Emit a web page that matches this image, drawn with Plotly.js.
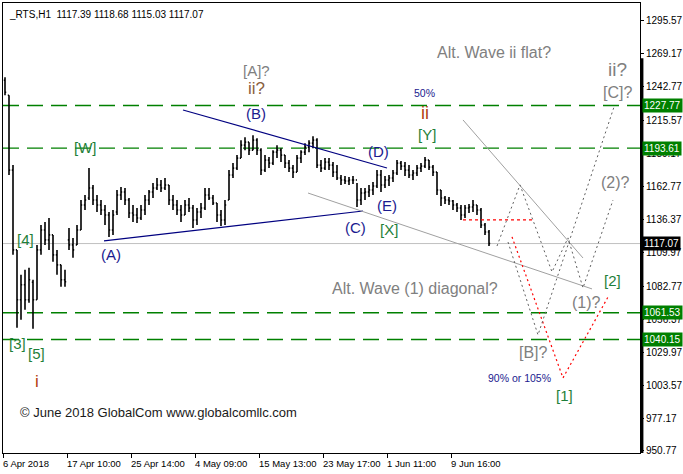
<!DOCTYPE html>
<html><head><meta charset="utf-8">
<script src="https://cdn.plot.ly/plotly-3.0.1.min.js"></script>
<style>html,body{margin:0;padding:0;background:#fff}#c{width:683px;height:474px}</style>
</head><body><div id="c"></div>
<script>
// ---- price bars (H1 RTS, one bar per 4 px group) ----
const barOpen = [1248,1236,1176,1112,1072,1084,1072,1086,1072,1112,1128,1120,1124,1108,1100,1088,1120,1116,1116,1128,1148,1153.6,1161.6,1152,1148,1144,1140,1128,1142.4,1156,1158.4,1152,1141.6,1140,1137.6,1144,1152,1158.4,1161.6,1164,1161.6,1164,1152,1148,1144,1140,1148,1145.6,1136,1142.4,1145.6,1156,1153.6,1149.6,1140,1136,1152,1172,1177.6,1185.6,1196,1198.4,1192,1200,1192,1176,1184,1181.6,1190.4,1192,1188,1181.6,1177.6,1174.4,1185.6,1190.4,1194.4,1197.6,1200,1180,1177.6,1182.4,1180,1174.4,1169.6,1168,1167.2,1168,1168,1152,1157.6,1158.4,1160,1163.2,1172,1164,1168,1169.6,1173.6,1181.6,1179.2,1176,1172,1173.6,1177.6,1179.2,1184,1178.4,1174.4,1160,1153.6,1152,1151.2,1148,1145.6,1140,1145.6,1146.4,1148,1144,1132,1126.4];
const barHigh = [1250.4,1236,1180,1112,1092,1096,1097.6,1088,1116,1132,1134.4,1137.6,1124,1112,1100,1096,1129.6,1121.6,1132,1152,1156,1177.6,1164,1156,1152,1148,1142.4,1144,1160,1162.4,1161.6,1153.6,1148,1145.6,1148,1156,1160,1165.6,1169.6,1168,1169.6,1164,1156,1152,1148,1152,1153.6,1148,1145.6,1149.6,1161.6,1161.6,1156,1149.6,1144,1152,1176,1181.6,1188,1200,1202.4,1198.4,1204,1201.6,1193.6,1188,1186.4,1192,1196,1193.6,1188,1184,1180,1188,1192,1197.6,1200,1203.2,1201.6,1184,1185.6,1185.6,1182.4,1180,1172,1171.2,1170.4,1171.2,1165.6,1161.6,1161.6,1164,1166.4,1176,1176,1171.2,1172,1176,1184,1183.2,1182.4,1180,1176,1180,1181.6,1186.4,1184,1180,1174.4,1160,1155.2,1154.4,1152,1149.6,1148,1148,1148.8,1152,1148,1145.6,1133.6,1128];
const barLow = [1236,1172,1108,1049.6,1056,1064,1069.6,1048.8,1072,1108,1116,1112,1102.4,1092,1082.4,1082.4,1112,1105.6,1116,1128,1144,1152,1148,1142.4,1140,1132,1122.4,1124,1140,1152,1148,1137.6,1134.4,1133.6,1136,1140,1148,1153.6,1160,1158.4,1160,1148,1144,1140,1134.4,1140,1142.4,1129.6,1132,1137.6,1144,1152,1148,1134.4,1131.2,1132,1152,1169.6,1176,1185.6,1192,1188,1192,1188,1172,1174.4,1177.6,1180,1185.6,1182.4,1177.6,1174.4,1169.6,1174.4,1181.6,1188,1190.4,1193.6,1177.6,1174.4,1176,1176,1170.4,1168,1164,1164.8,1164,1164.8,1146.4,1148,1152,1154.4,1156,1161.6,1158.4,1161.6,1163.2,1166.4,1172,1176,1171.2,1169.6,1168,1171.2,1174.4,1177.6,1176,1171.2,1156,1147.2,1148.8,1148,1144,1142.4,1136,1137.6,1141.6,1142.4,1140,1129.6,1124,1115.03];
const barClose = [1238.4,1176,1112,1072,1084,1072,1088,1072,1112,1128,1120,1124,1108,1100,1088,1086.4,1116,1112,1128,1148,1152,1161.6,1152,1148,1144,1140,1128,1140,1156,1158.4,1152,1141.6,1140,1137.6,1144,1152,1158.4,1161.6,1164,1161.6,1164,1152,1148,1144,1140,1148,1145.6,1136,1142.4,1145.6,1156,1153.6,1149.6,1140,1136,1148,1172,1177.6,1185.6,1196,1198.4,1192,1200,1192,1176,1184,1181.6,1190.4,1192,1188,1181.6,1177.6,1174.4,1185.6,1190.4,1194.4,1197.6,1200,1180,1177.6,1182.4,1180,1174.4,1169.6,1168,1167.2,1168,1168,1152,1157.6,1158.4,1160,1163.2,1172,1164,1168,1169.6,1173.6,1181.6,1179.2,1176,1172,1173.6,1177.6,1179.2,1184,1178.4,1174.4,1160,1153.6,1152,1151.2,1148,1145.6,1140,1145.6,1146.4,1148,1144,1132,1126.4,1117.07];
const barIndex = barClose.map((_, i) => i);

// ---- axes ----
const xTickBars = [-0.5, 15.5, 31.5, 47.5, 63.5, 79.5, 95.5, 111.5];
const xTickLabels = ['6 Apr 2018','17 Apr 10:00','25 Apr 14:00','4 May 09:00','15 May 13:00','23 May 17:00','1 Jun 11:00','9 Jun 16:00'];
const yTickValues = [1295.57,1269.17,1242.77,1215.57,1189.17,1162.77,1136.37,1109.97,1082.77,1056.37,1029.97,1003.57,977.17,950.77];
const yTickLabels = yTickValues.map(v => v.toFixed(2));

// ---- levels ----
const greenLevels = [1227.77, 1193.61, 1061.53, 1040.15];
const lastPrice = 1117.07;

// ---- trend lines / projections (bar index, price) ----
const trendUpperX = [44.5, 95.5],   trendUpperY = [1224.2, 1177.7];
const trendLowerX = [24.75, 89.5],  trendLowerY = [1119.2, 1143.2];
const grayLine1X = [75.75, 146.75], grayLine1Y = [1157.6, 1080.7];
const grayLine2X = [114.5, 144.5],  grayLine2Y = [1216.2, 1105.5];
const redFlatX = [114.5, 132],      redFlatY = [1136.0, 1136.0];
const redPathX = [126.75, 139.5, 150.75], redPathY = [1122.4, 1009.3, 1074.2];
const diagPathX = [123, 128.75, 136.75, 140.75, 144.5, 152], diagPathY = [1115.1, 1164.1, 1094.3, 1121.6, 1081.5, 1152.0];
const flatPathX = [125.75, 133.25, 152.25], flatPathY = [1118.3, 1043.8, 1226.6];

const FONT = 'Liberation Sans, Arial, sans-serif';
const NAVY = '#1b1b8f', GREEN = '#1f7f3a', GRAY = '#808080', BROWN = '#b3400f';

function lineTrace(x, y, color, width, dash) {
  return {type:'scatter', mode:'lines', x:x, y:y, hoverinfo:'skip', showlegend:false,
          line:{color:color, width:width, dash:dash || 'solid'}};
}

const traces = [
  {type:'ohlc', x:barIndex, open:barOpen, high:barHigh, low:barLow, close:barClose,
   increasing:{line:{color:'#000', width:1.6}}, decreasing:{line:{color:'#000', width:1.6}},
   tickwidth:0.3, hoverinfo:'skip', showlegend:false},
  lineTrace(trendUpperX, trendUpperY, '#000080', 1.2),
  lineTrace(trendLowerX, trendLowerY, '#000080', 1.2),
  lineTrace(grayLine1X, grayLine1Y, '#a0a0a0', 1),
  lineTrace(grayLine2X, grayLine2Y, '#a0a0a0', 1),
  lineTrace(redFlatX, redFlatY, '#ff0000', 1.2, '3px,3px'),
  lineTrace(redPathX, redPathY, '#ff0000', 1.2, '2px,3px'),
  lineTrace(diagPathX, diagPathY, '#606060', 1, '2px,3px'),
  lineTrace(flatPathX, flatPathY, '#606060', 1, '2px,3px'),
];

// pixel helpers for label placement
const px = p => (p - 5) / 4;
const py = p => 1312.41 - 0.8019 * p;

const shapes = greenLevels.map(v => ({type:'line', xref:'paper', x0:0, x1:1, yref:'y', y0:v, y1:v, layer:'below',
  line:{color:'#008000', width:1.4, dash:'16px,8px'}}));
shapes.push({type:'line', xref:'paper', x0:0, x1:1, yref:'y', y0:lastPrice, y1:lastPrice, layer:'below', line:{color:'#c0c0c0', width:1}});
shapes.push({type:'line', xref:'paper', x0:1.003, x1:1.003, yref:'paper', y0:0, y1:0.877, line:{color:'#000', width:3}});

function lab(x, y, text, color, size) {
  return {x:px(x), y:py(y), xref:'x', yref:'y', text:text, showarrow:false, xanchor:'center', yanchor:'middle',
          font:{family:FONT, size:size, color:color}};
}
const annotations = [
  lab(256, 71, '[A]?', GRAY, 15),
  lab(256, 89, 'ii?', '#8a6040', 17),
  lab(256, 114, '(B)', NAVY, 15),
  lab(85, 148, '[W]', GREEN, 15),
  lab(25, 240, '[4]', GREEN, 15),
  lab(111, 255, '(A)', NAVY, 15),
  lab(17, 344, '[3]', GREEN, 15),
  lab(36, 354, '[5]', GREEN, 15),
  lab(37, 382, 'i', BROWN, 17),
  lab(158, 413, '© June 2018 GlobalCom www.globalcomllc.com', '#1a1a1a', 13),
  lab(494, 53, 'Alt. Wave ii flat?', GRAY, 16),
  lab(424, 93, '50%', NAVY, 10.5),
  lab(425, 113, 'ii', BROWN, 18),
  lab(427, 135, '[Y]', GREEN, 15),
  lab(378, 152, '(D)', NAVY, 15),
  lab(387, 206, '(E)', NAVY, 15),
  lab(355, 228, '(C)', NAVY, 15),
  lab(389, 230, '[X]', GREEN, 15),
  lab(415, 289, 'Alt. Wave (1) diagonal?', GRAY, 16),
  lab(617, 70, 'ii?', GRAY, 19),
  lab(617, 93, '[C]?', GRAY, 16),
  lab(615, 183, '(2)?', GRAY, 16),
  lab(612, 281, '[2]', GREEN, 15),
  lab(586, 303, '(1)?', GRAY, 16),
  lab(533, 353, '[B]?', GRAY, 16),
  lab(519, 378, '90% or 105%', NAVY, 10.5),
  lab(564, 396, '[1]', GREEN, 15),
  {xref:'paper', yref:'paper', x:0.006, y:0.992, xanchor:'left', yanchor:'top', showarrow:false,
   text:'_RTS,H1  1117.39 1118.68 1115.03 1117.07', font:{family:FONT, size:10, color:'#000'}},
];
greenLevels.forEach(v => annotations.push({xref:'paper', yref:'y', x:1, y:v, xanchor:'left', yanchor:'middle', xshift:2,
  showarrow:false, text:v.toFixed(2), bgcolor:'#008000', borderpad:1, font:{family:FONT, size:10, color:'#fff'}}));
annotations.push({xref:'paper', yref:'y', x:1, y:lastPrice, xanchor:'left', yanchor:'middle', xshift:2,
  showarrow:false, text:lastPrice.toFixed(2), bgcolor:'#000', borderpad:1, font:{family:FONT, size:10, color:'#fff'}});
// x-axis labels, left-aligned at their tick as in the terminal
xTickBars.forEach((v, i) => annotations.push({xref:'x', yref:'paper', x:v, y:0, xanchor:'left', yanchor:'top',
  xshift:-2, yshift:-3, showarrow:false, text:xTickLabels[i], font:{family:FONT, size:9.5, color:'#000'}}));

const layout = {
  width:683, height:474, margin:{l:3, r:43, t:3, b:21},
  paper_bgcolor:'#fff', plot_bgcolor:'#fff', showlegend:false,
  xaxis:{range:[-0.5, 158.75], tickvals:xTickBars, ticks:'outside', ticklen:4, tickcolor:'#000', showticklabels:false,
    showgrid:false, zeroline:false, showline:true, linecolor:'#000', linewidth:1, mirror:true,
    rangeslider:{visible:false}, fixedrange:true},
  yaxis:{range:[949.1, 1310.0], side:'right', tickvals:yTickValues, ticktext:yTickLabels, ticks:'outside', ticklen:3, tickcolor:'#000',
    showgrid:false, zeroline:false, showline:true, linecolor:'#000', linewidth:1, mirror:true,
    tickfont:{family:FONT, size:10, color:'#000'}, fixedrange:true},
  shapes:shapes, annotations:annotations, hovermode:false
};
Plotly.newPlot('c', traces, layout, {staticPlot:true, displayModeBar:false});
</script></body></html>
